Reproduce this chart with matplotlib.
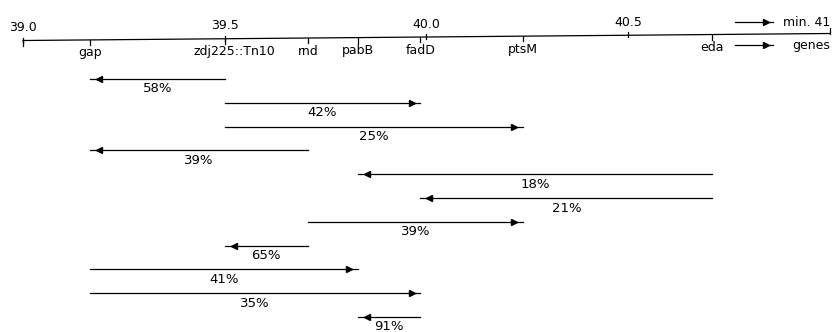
import numpy as np
import matplotlib
matplotlib.use('Agg')
import matplotlib.pyplot as plt

# map scale (minutes)
scale_ticks = [39.0, 39.5, 40.0, 40.5]
scale_labels = ['39.0', '39.5', '40.0', '40.5']

# gene positions on the map (min)
genes = ['gap', 'zdj225::Tn10', 'rnd', 'pabB', 'fadD', 'ptsM', 'eda']
gene_pos = [39.166, 39.50, 39.706, 39.83, 39.985, 40.24, 40.708]

# cotransduction frequencies: arrow from selected -> unselected marker
from_gene = ['zdj225::Tn10', 'zdj225::Tn10', 'zdj225::Tn10', 'rnd', 'eda', 'eda',
             'rnd', 'rnd', 'gap', 'gap', 'fadD']
to_gene = ['gap', 'fadD', 'ptsM', 'gap', 'pabB', 'fadD',
           'ptsM', 'zdj225::Tn10', 'pabB', 'fadD', 'pabB']
percent = [58, 42, 25, 39, 18, 21, 39, 65, 41, 35, 91]

W, H = 840, 332
px0, ppm = 23, 403.5  # pixel of 39.0 and pixels per minute

fig = plt.figure(figsize=(W / 100, H / 100), dpi=100)
ax = fig.add_axes([0, 0, 1, 1])
ax.set_xlim(39.0 - px0 / ppm, 39.0 + (W - px0) / ppm)
ax.set_ylim(H, 0)
ax.axis('off')

lw = 0.9
fs = 9
pos = dict(zip(genes, gene_pos))


def px(x):
    # pixel column -> map minutes
    return 39.0 + (x - px0) / ppm


def axis_y(m):
    # the scanned map line is slightly tilted
    return 40.5 - 3.5 * (m - 39.0)


# map line
ax.plot([39.0, 41.0], [axis_y(39.0), axis_y(41.0)], color='black', lw=lw)
ax.plot([39.0, 39.0], [axis_y(39.0), axis_y(39.0) + 5], color='black', lw=lw)
ax.plot([41.0, 41.0], [axis_y(41.0) - 6, axis_y(41.0)], color='black', lw=lw)
for t, lab in zip(scale_ticks, scale_labels):
    ay = axis_y(t)
    ax.plot([t, t], [ay - 3, ay + 2], color='black', lw=lw)
    ax.text(t, ay - 13, lab, ha='center', va='center', fontsize=fs)
for g, p in zip(genes, gene_pos):
    ay = axis_y(p)
    ax.plot([p, p], [ay, ay + 5], color='black', lw=lw)
    dx = 0.025 if g == 'zdj225::Tn10' else 0.0
    ax.text(p + dx, ay + 13, g, ha='center', va='center', fontsize=fs)

# legend
for yy, lab, tx in [(22, 'min. 41', 783), (45, 'genes', 792)]:
    ax.plot([px(735), px(773)], [yy, yy], color='black', lw=lw)
    ax.plot([px(766)], [yy], marker='>', color='black', markersize=4)
    ax.text(px(tx), yy, lab, ha='left', va='center', fontsize=fs)

# cotransduction arrows
row_y0, row_dy = 79, 23.8
inset = 0.022
for i, (a, b, p) in enumerate(zip(from_gene, to_gene, percent)):
    y = row_y0 + i * row_dy
    xa, xb = pos[a], pos[b]
    ax.plot([xa, xb], [y, y], color='black', lw=lw)
    sgn = 1 if xb > xa else -1
    ax.plot([xb - sgn * inset], [y], marker='>' if sgn > 0 else '<',
            color='black', markersize=4.5)
    ax.text((xa + xb) / 2, y + 10, f'{p}%', ha='center', va='center', fontsize=9.5)

fig.savefig('out.png', dpi=100)
